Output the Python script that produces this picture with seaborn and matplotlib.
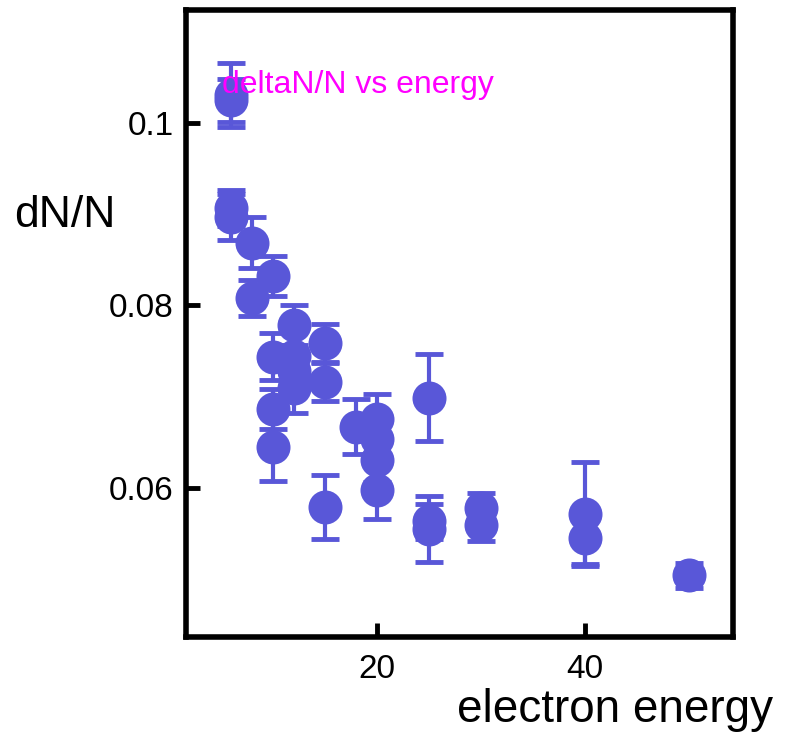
import matplotlib
matplotlib.use("Agg")
import matplotlib.pyplot as plt
import seaborn as sns
import pandas as pd

# values
energy = [6, 6, 6, 6, 8, 8, 10, 10, 10, 10, 12, 12, 12, 12, 15, 15, 15, 18,
          20, 20, 20, 20, 25, 25, 25, 30, 30, 40, 40, 50]
dn_over_n = [0.1031, 0.1025, 0.0907, 0.0897, 0.0869, 0.0808, 0.0832, 0.0744,
             0.0686, 0.0645, 0.0779, 0.0745, 0.0728, 0.0710, 0.0759, 0.0716,
             0.0579, 0.0667, 0.0675, 0.0653, 0.0631, 0.0598, 0.0699, 0.0563,
             0.0555, 0.0578, 0.0559, 0.0571, 0.0545, 0.0504]
dn_err = [0.0035, 0.0024, 0.0020, 0.0025, 0.0028, 0.0020, 0.0022, 0.0026,
          0.0022, 0.0038, 0.0022, 0.0028, 0.0025, 0.0028, 0.0021, 0.0021,
          0.0035, 0.0030, 0.0028, 0.0025, 0.0025, 0.0032, 0.0048, 0.0019,
          0.0036, 0.0016, 0.0017, 0.0057, 0.0029, 0.0014]
x_ticks = [20, 40]
y_ticks = [0.06, 0.08, 0.1]
y_tick_labels = ["0.06", "0.08", "0.1"]

df = pd.DataFrame({"energy": energy, "dN": dn_over_n, "err": dn_err})

sns.set_theme(style="white")
plt.rcParams["font.family"] = ["Liberation Sans", "DejaVu Sans"]

color = "#5957D8"

fig = plt.figure(figsize=(7.89, 7.34), dpi=100)
ax = fig.add_axes([0.2357, 0.1322, 0.6933, 0.8542])

# error bars first, markers on top
ax.errorbar(df["energy"], df["dN"], yerr=df["err"], fmt="none",
            ecolor=color, elinewidth=3, capsize=10, capthick=3.5, zorder=2)
sns.scatterplot(data=df, x="energy", y="dN", ax=ax, color=color,
                s=600, linewidth=0, alpha=1, zorder=3, legend=False)

ax.set_xlim(1.63, 54.2)
ax.set_ylim(0.04363, 0.11242)
ax.set_xticks(x_ticks)
ax.set_yticks(y_ticks)
ax.set_yticklabels(y_tick_labels)

for side in ["left", "right", "top", "bottom"]:
    ax.spines[side].set_visible(True)
    ax.spines[side].set_color("black")
    ax.spines[side].set_linewidth(4)

ax.tick_params(axis="both", direction="in", length=10, width=3.5,
               color="black", labelsize=24, labelcolor="black")
ax.tick_params(axis="x", pad=12)
ax.tick_params(axis="y", pad=9)
ax.tick_params(top=False, right=False, bottom=True, left=True)

ax.set_ylabel("dN/N", fontsize=32, rotation=0, ha="center", va="center",
              color="black")
ax.yaxis.set_label_coords(-0.221, 0.673)
ax.set_xlabel("electron energy", fontsize=33, ha="center", va="center",
              color="black")
ax.xaxis.set_label_coords(0.784, -0.116)

ax.text(0.0658, 0.8676, "deltaN/N vs energy", transform=ax.transAxes,
        color="#FF00FF", fontsize=23, va="baseline", ha="left", zorder=4)

fig.savefig("out.png", dpi=100)
